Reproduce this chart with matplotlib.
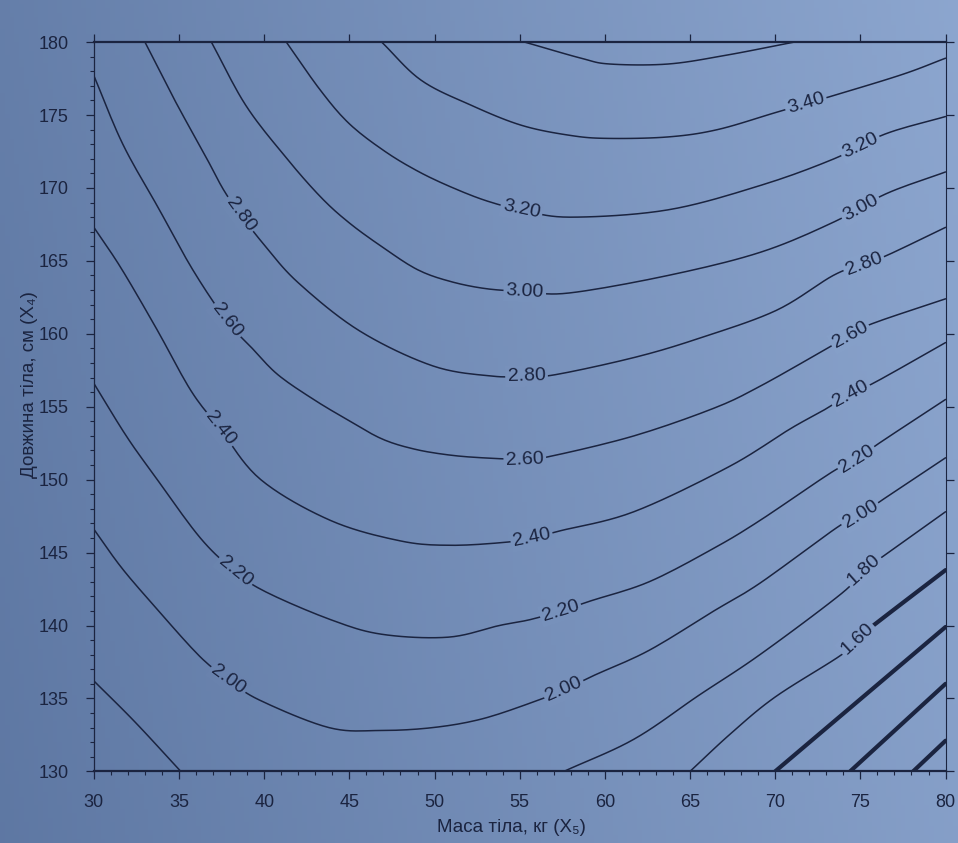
import numpy as np
import matplotlib.pyplot as plt

# Contour lines of the response surface.
# x = body mass (kg), y = body length (cm); every line runs left to right.
x_360 = [55.3, 58.6, 60.3, 63.7, 67.1, 71.1]
y_360 = [180.0, 178.9, 178.5, 178.5, 179.1, 180.0]

x_340 = [46.9, 49.2, 52.1, 55.1, 58.0, 60.2, 63.7, 66.6, 70.1, 73.6, 77.5, 80.0]
y_340 = [180.0, 177.4, 175.7, 174.3, 173.6, 173.4, 173.5, 174.0, 175.2, 176.4, 177.8, 178.9]

x_320 = [41.3, 43.3, 45.0, 47.1, 49.1, 51.1, 53.1, 55.1, 57.95, 63.7, 69.2, 73.45, 76.45, 80.0]
y_320 = [180.0, 176.7, 174.4, 172.5, 171.1, 170.0, 169.1, 168.5, 168.0, 168.5, 170.2, 172.0, 173.7, 174.9]

x_300 = [36.9, 38.9, 41.2, 43.3, 45.0, 47.0, 49.0, 50.9, 53.0, 55.3, 57.9, 63.7, 69.15, 73.5, 76.5, 80.0]
y_300 = [180.0, 175.7, 172.2, 169.4, 167.6, 165.9, 164.4, 163.6, 163.1, 162.9, 162.8, 164.0, 165.6, 167.7, 169.6, 171.1]

x_280 = [33.0, 34.8, 36.5, 37.6, 38.6, 40.0, 42.0, 45.6, 49.9, 53.4, 55.4, 57.1, 61.8, 65.55,
         70.05, 73.4, 75.2, 76.6, 80.0]
y_280 = [180.0, 175.9, 172.3, 169.9, 168.2, 166.1, 163.5, 160.2, 157.8, 157.1, 157.1, 157.2,
         158.4, 159.7, 161.6, 164.0, 164.8, 165.4, 167.3]

x_260 = [30.0, 31.7, 33.8, 35.8, 37.8, 39.3, 40.8, 42.9, 44.9, 46.9, 48.8, 50.8, 52.8, 55.3, 56.8,
         61.7, 66.4, 69.1, 72.9, 74.4, 75.7, 80.0]
y_260 = [177.7, 173.0, 168.6, 164.4, 160.9, 159.0, 157.2, 155.5, 154.1, 152.8, 152.1, 151.7, 151.5,
         151.4, 151.6, 153.0, 154.9, 156.4, 158.9, 159.9, 160.7, 162.4]

x_240 = [30.0, 31.6, 33.7, 35.7, 37.4, 39.8, 43.9, 48.0, 50.9, 54.1, 55.7, 57.4, 61.7, 67.3, 70.9,
         72.9, 74.4, 75.9, 80.0]
y_240 = [167.3, 164.5, 160.3, 156.1, 153.5, 150.0, 147.2, 145.8, 145.5, 145.7, 146.0, 146.5, 147.8,
         150.9, 153.5, 154.8, 155.9, 156.7, 159.4]

x_220 = [30.0, 31.9, 33.6, 36.25, 38.3, 40.1, 43.9, 46.9, 50.8, 53.8, 55.6, 57.4, 59.2, 62.6, 66.4,
         69.1, 73.3, 74.8, 76.1, 80.0]
y_220 = [156.6, 153.0, 150.2, 146.0, 143.7, 142.3, 140.4, 139.4, 139.2, 140.0, 140.4, 141.0, 141.7,
         143.0, 145.3, 147.2, 150.5, 151.4, 152.5, 155.5]

x_200 = [30.0, 31.6, 33.5, 36.2, 37.9, 39.7, 43.8, 46.8, 49.9, 52.8, 55.9, 57.6, 59.4, 62.6, 66.4,
         69.1, 73.6, 75.0, 76.4, 80.0]
y_200 = [146.6, 144.0, 141.4, 137.9, 136.3, 134.9, 133.0, 132.8, 133.0, 133.6, 134.8, 135.6, 136.6,
         138.3, 141.0, 142.9, 146.7, 147.6, 148.7, 151.5]

x_180_left = [30.0, 32.4, 35.1]
y_180_left = [136.2, 133.4, 130.0]
x_180 = [57.6, 61.7, 65.5, 69.1, 73.9, 75.2, 76.4, 80.0]
y_180 = [130.0, 132.2, 135.2, 138.0, 142.2, 143.8, 144.8, 147.8]

x_160 = [65.0, 67.4, 70.0, 73.9, 74.8, 76.2, 80.0]
y_160 = [130.0, 132.6, 135.1, 138.0, 139.1, 140.4, 143.8]
thick_160_from = 75.6  # in print the 1.60 line turns bold after its label

# bold lines in the lower right corner (unlabelled in print)
x_140 = [70.0, 80.0]
y_140 = [130.0, 139.9]
x_120 = [74.4, 80.0]
y_120 = [130.0, 136.0]
x_100 = [78.1, 80.0]
y_100 = [130.0, 132.1]

# where the level labels sit (x position along each line)
label_x = {
    "3.40": [71.8],
    "3.20": [55.1, 75.0],
    "3.00": [55.3, 75.0],
    "2.80": [38.6, 55.4, 75.2],
    "2.60": [37.8, 55.3, 74.4],
    "2.40": [37.4, 55.7, 74.4],
    "2.20": [38.3, 57.4, 74.8],
    "2.00": [37.9, 57.6, 75.0],
    "1.80": [75.2],
    "1.60": [74.8],
}

x_ticks = [30, 35, 40, 45, 50, 55, 60, 65, 70, 75, 80]
y_ticks = [130, 135, 140, 145, 150, 155, 160, 165, 170, 175, 180]
x_label = "Маса тіла, кг (X₅)"
y_label = "Довжина тіла, см (X₄)"

INK = "#1b2440"
BG_LEFT = np.array([0.37, 0.47, 0.64])
BG_RIGHT = np.array([0.55, 0.65, 0.81])
FONT = ["Liberation Sans", "DejaVu Sans"]

plt.rcParams["font.family"] = FONT


def bg_color(fx, fy):
    t = np.clip(0.85 * fx + 0.15 * fy, 0, 1)
    return BG_LEFT * (1 - t) + BG_RIGHT * t


def smooth(xs, ys, n=10):
    # Catmull-Rom through the read points, only to draw a smooth curve
    p = np.column_stack([xs, ys]).astype(float)
    if len(p) < 3:
        return p[:, 0], p[:, 1]
    p = np.vstack([2 * p[0] - p[1], p, 2 * p[-1] - p[-2]])
    t = np.linspace(0, 1, n, endpoint=False)[:, None]
    out = []
    for i in range(1, len(p) - 2):
        p0, p1, p2, p3 = p[i - 1], p[i], p[i + 1], p[i + 2]
        out.append(0.5 * (2 * p1 + (p2 - p0) * t + (2 * p0 - 5 * p1 + 4 * p2 - p3) * t ** 2
                          + (3 * p1 - p0 - 3 * p2 + p3) * t ** 3))
    out.append(p[-2][None, :])
    out = np.vstack(out)
    return out[:, 0], out[:, 1]


fig = plt.figure(figsize=(9.58, 8.43), dpi=100)

# paper-photo background
bg_ax = fig.add_axes([0, 0, 1, 1], zorder=0)
gx, gy = np.meshgrid(np.linspace(0, 1, 200), np.linspace(1, 0, 200))
img = np.stack([bg_color(a, b) for a, b in zip(gx.ravel(), gy.ravel())]).reshape(200, 200, 3)
bg_ax.imshow(img, aspect="auto", extent=[0, 1, 0, 1])
bg_ax.axis("off")

ax = fig.add_axes([0.098, 0.085, 0.889, 0.865], zorder=1)
ax.patch.set_alpha(0)
ax.set_xlim(30, 80)
ax.set_ylim(130, 180)

thin = dict(color=INK, lw=1.1, solid_capstyle="round")
bold = dict(color=INK, lw=3.0, solid_capstyle="round")

lines = {
    "3.60": (x_360, y_360), "3.40": (x_340, y_340), "3.20": (x_320, y_320),
    "3.00": (x_300, y_300), "2.80": (x_280, y_280), "2.60": (x_260, y_260),
    "2.40": (x_240, y_240), "2.20": (x_220, y_220), "2.00": (x_200, y_200),
    "1.80": (x_180, y_180), "1.60": (x_160, y_160),
}
for xs, ys in lines.values():
    ax.plot(*smooth(xs, ys), **thin)
ax.plot(*smooth(x_180_left, y_180_left), **thin)

# bold part of 1.60 and the lower levels
sx, sy = smooth(x_160, y_160)
keep = sx >= thick_160_from
ax.plot(sx[keep], sy[keep], **bold)
for xs, ys in [(x_140, y_140), (x_120, y_120), (x_100, y_100)]:
    ax.plot(xs, ys, **bold)

# contour labels, rotated along the line, masking it underneath
for lev, xs_lab in label_x.items():
    xs, ys = lines[lev]
    for x0 in xs_lab:
        y0 = np.interp(x0, xs, ys)
        xa, xb2 = x0 - 0.5, x0 + 0.5
        p = ax.transData.transform([(xa, np.interp(xa, xs, ys)), (xb2, np.interp(xb2, xs, ys))])
        ang = np.degrees(np.arctan2(p[1, 1] - p[0, 1], p[1, 0] - p[0, 0]))
        fpos = fig.transFigure.inverted().transform(ax.transData.transform((x0, y0)))
        ax.text(x0, y0, lev, rotation=ang, rotation_mode="anchor", ha="center", va="center",
                fontsize=14, color=INK, zorder=5,
                bbox=dict(boxstyle="square,pad=0.12", fc=bg_color(*fpos), ec="none"))

# axes styling
for side in ["left", "right", "top", "bottom"]:
    ax.spines[side].set_color(INK)
ax.spines["left"].set_linewidth(0.9)
ax.spines["right"].set_linewidth(0.8)
ax.spines["top"].set_linewidth(1.6)
ax.spines["bottom"].set_linewidth(1.6)

ax.set_xticks(x_ticks)
ax.set_yticks(y_ticks)
ax.set_xticks(np.arange(30, 81, 1), minor=True)
ax.set_yticks(np.arange(130, 181, 1), minor=True)
ax.tick_params(which="major", direction="out", length=6, width=0.9, color=INK,
               labelcolor=INK, labelsize=13, top=True, right=True)
ax.tick_params(which="minor", direction="out", length=3, width=0.8, color=INK)
ax.tick_params(axis="x", which="major", pad=10)
ax.tick_params(axis="y", which="major", pad=12)

ax.set_xlabel(x_label, fontsize=13.5, color=INK)
ax.set_ylabel(y_label, fontsize=13.5, color=INK)
ax.xaxis.set_label_coords(0.49, -0.066)
ax.yaxis.set_label_coords(-0.066, 0.53)

fig.savefig("out.png", dpi=100)
